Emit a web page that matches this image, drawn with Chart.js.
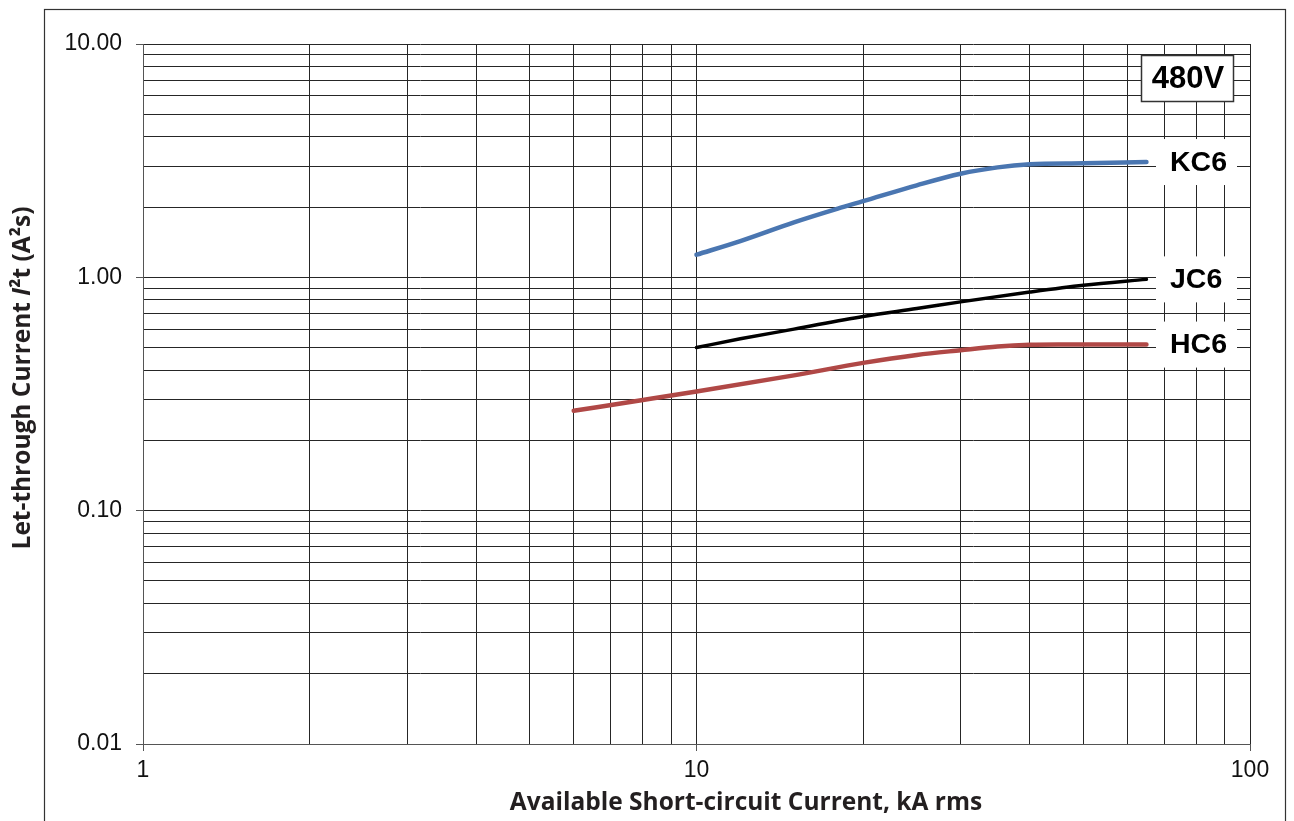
<!DOCTYPE html>
<html>
<head>
<meta charset="utf-8">
<script src="https://cdn.jsdelivr.net/npm/chart.js@4.4.0/dist/chart.umd.min.js"></script>
<style>
  html, body { margin: 0; padding: 0; background: #fff; }
</style>
</head>
<body>
<canvas id="myChart" width="1294" height="821"></canvas>
<script>
// axis ranges and labelled decades
var xDecades = [1, 10, 100];
var xTickLabels = ["1", "10", "100"];
var yDecades = [0.01, 0.1, 1, 10];
var yTickLabels = ["0.01", "0.10", "1.00", "10.00"];

// let-through I2t curves (kA rms -> A2s)
var kc6X = [10, 12, 15, 18, 20, 25, 30, 35, 40, 50, 65];
var kc6Y = [1.25, 1.43, 1.72, 1.97, 2.12, 2.48, 2.78, 2.96, 3.05, 3.08, 3.12];
var jc6X = [10, 12, 15, 20, 25, 30, 40, 50, 65];
var jc6Y = [0.50, 0.545, 0.60, 0.68, 0.735, 0.785, 0.865, 0.925, 0.98];
var hc6X = [6, 8, 10, 15, 20, 25, 30, 35, 40, 45, 50, 65];
var hc6Y = [0.268, 0.298, 0.324, 0.38, 0.43, 0.465, 0.487, 0.505, 0.514, 0.516, 0.515, 0.515];

var voltageLabel = "480V";
var xTitle = "Available Short-circuit Current, kA rms";

function toPoints(xs, ys) {
  return xs.map(function(x, i) { return { x: x, y: ys[i] }; });
}

// 1..9 inside every decade, for the log grid
function gridValues(decades) {
  var vals = [];
  for (var i = 0; i < decades.length - 1; i++) {
    for (var k = 1; k < 10; k++) vals.push(Number((k * decades[i]).toPrecision(3)));
  }
  vals.push(decades[decades.length - 1]);
  return vals;
}

var gridColor = '#262626';
var titleFont = 'bold 24.5px "Open Sans", sans-serif';

var decor = {
  id: 'decor',
  afterDatasetsDraw: function(chart) {
    var ctx = chart.ctx, area = chart.chartArea, ys = chart.scales.y;
    ctx.save();
    // end-of-curve labels on white patches
    chart.data.datasets.forEach(function(ds) {
      var last = ds.data[ds.data.length - 1];
      var py = ys.getPixelForValue(last.y);
      ctx.fillStyle = '#fff';
      ctx.fillRect(area.right - 94, py - 23, 81, 46);
      ctx.fillStyle = '#000';
      ctx.font = 'bold 28.5px "Liberation Sans", Arial, sans-serif';
      ctx.textAlign = 'left';
      ctx.textBaseline = 'middle';
      ctx.fillText(ds.label, area.right - 80, py + 1);
    });
    // voltage box
    var bx = area.right - 109, by = area.top + 11;
    ctx.fillStyle = '#fff';
    ctx.fillRect(bx, by, 92, 46);
    ctx.strokeStyle = '#333';
    ctx.lineWidth = 1.5;
    ctx.strokeRect(bx + 0.5, by + 0.5, 92, 46);
    ctx.fillStyle = '#000';
    ctx.font = 'bold 31px "Liberation Sans", Arial, sans-serif';
    ctx.textAlign = 'center';
    ctx.textBaseline = 'middle';
    ctx.fillText(voltageLabel, bx + 47, by + 24);
    ctx.restore();
  },
  afterDraw: function(chart) {
    var ctx = chart.ctx;
    ctx.save();
    // outer frame
    ctx.strokeStyle = '#333';
    ctx.lineWidth = 1.2;
    ctx.strokeRect(44.5, 9.5, 1241, 900);

    // x title
    ctx.fillStyle = '#231f20';
    ctx.font = titleFont;
    ctx.textAlign = 'center';
    ctx.textBaseline = 'middle';
    ctx.fillText(xTitle, 746, 803);

    // y title with italic I
    var parts = [
      ['Let-through Current ', titleFont],
      ['I', 'italic ' + titleFont],
      ['\u00b2t (A\u00b2s)', titleFont]
    ];
    var total = 0;
    parts.forEach(function(p) { ctx.font = p[1]; total += ctx.measureText(p[0]).width; });
    ctx.translate(23, 378);
    ctx.rotate(-Math.PI / 2);
    ctx.textAlign = 'left';
    var cx = -total / 2;
    parts.forEach(function(p) {
      ctx.font = p[1];
      ctx.fillText(p[0], cx, 0);
      cx += ctx.measureText(p[0]).width;
    });
    ctx.restore();
  }
};

new Chart(document.getElementById('myChart'), {
  type: 'line',
  data: {
    datasets: [
      { label: 'KC6', data: toPoints(kc6X, kc6Y), borderColor: '#4a76b1', borderWidth: 4.5 },
      { label: 'JC6', data: toPoints(jc6X, jc6Y), borderColor: '#000000', borderWidth: 3.5 },
      { label: 'HC6', data: toPoints(hc6X, hc6Y), borderColor: '#b04846', borderWidth: 4.5 }
    ]
  },
  options: {
    responsive: false,
    animation: false,
    devicePixelRatio: 1,
    layout: { padding: { left: 0, right: 44, top: 44, bottom: 0 } },
    elements: {
      point: { radius: 0 },
      line: { cubicInterpolationMode: 'monotone', borderCapStyle: 'round', fill: false }
    },
    plugins: { legend: { display: false }, tooltip: { enabled: false } },
    scales: {
      x: {
        type: 'logarithmic',
        min: xDecades[0],
        max: xDecades[xDecades.length - 1],
        afterBuildTicks: function(scale) {
          scale.ticks = gridValues(xDecades).map(function(v) { return { value: v }; });
        },
        afterFit: function(scale) { scale.height = 77; },
        grid: {
          color: gridColor,
          lineWidth: 1,
          tickLength: 7,
          tickColor: function(c) {
            return c.tick && xDecades.indexOf(c.tick.value) >= 0 ? '#555' : 'rgba(0,0,0,0)';
          }
        },
        border: { color: '#555' },
        ticks: {
          autoSkip: false,
          maxRotation: 0,
          padding: 6,
          color: '#111',
          font: { family: '"Liberation Sans", Arial, sans-serif', size: 23 },
          callback: function(v) {
            var i = xDecades.indexOf(v);
            return i >= 0 ? xTickLabels[i] : '';
          }
        }
      },
      y: {
        type: 'logarithmic',
        min: yDecades[0],
        max: yDecades[yDecades.length - 1],
        afterBuildTicks: function(scale) {
          scale.ticks = gridValues(yDecades).map(function(v) { return { value: v }; });
        },
        afterFit: function(scale) { scale.width = 143; },
        grid: {
          color: gridColor,
          lineWidth: 1,
          tickLength: 7,
          tickColor: function(c) {
            return c.tick && yDecades.indexOf(c.tick.value) >= 0 ? '#555' : 'rgba(0,0,0,0)';
          }
        },
        border: { color: '#555' },
        ticks: {
          autoSkip: false,
          padding: 14,
          color: '#111',
          font: { family: '"Liberation Sans", Arial, sans-serif', size: 23 },
          callback: function(v) {
            var i = yDecades.indexOf(v);
            return i >= 0 ? yTickLabels[i] : '';
          }
        }
      }
    }
  },
  plugins: [decor]
});
</script>
</body>
</html>
